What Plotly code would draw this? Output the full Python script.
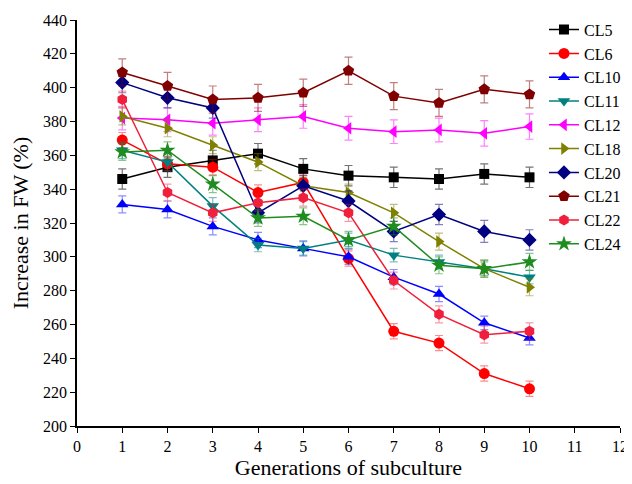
import plotly.graph_objects as go

generations = [1, 2, 3, 4, 5, 6, 7, 8, 9, 10]

cl5 = [346, 353, 357, 361, 352, 348, 347, 346, 349, 347]
cl6 = [369, 355, 353, 338, 344, 299, 256, 249, 231, 222]
cl10 = [331, 328, 318, 310, 305, 300, 288, 278, 261, 252]
cl11 = [363, 356, 330, 307, 305, 310, 301, 297, 293, 288]
cl12 = [382, 381, 379, 381, 383, 376, 374, 375, 373, 377]
cl18 = [383, 376, 366, 356, 342, 338, 326, 309, 293, 282]
cl20 = [403, 394, 388, 326, 342, 333, 315, 325, 315, 310]
cl21 = [409, 401, 393, 394, 397, 410, 395, 391, 399, 396]
cl22 = [393, 338, 326, 332, 335, 326, 286, 266, 254, 256]
cl24 = [362, 363, 343, 323, 324, 310, 318, 295, 293, 297]

err5 = [6, 6, 6, 6, 6, 6, 6, 6, 6, 6]
err6 = [4.5, 4.5, 4.5, 4.5, 4.5, 4.5, 4.5, 4.5, 4.5, 4.5]
err10 = [5, 5, 5, 4.5, 4.5, 4.5, 4.5, 4.5, 4, 4]
err11 = [5, 5, 5, 4, 4, 4, 4, 4, 4, 4]
err12 = [7, 7, 7, 7, 7, 7, 7, 7, 7.5, 7.5]
err18 = [5, 5, 5, 5, 5, 5, 5, 5, 5, 5]
err20 = [6, 6, 6, 6, 6, 6, 6, 6, 6.5, 6]
err21 = [8, 8, 8, 8, 8, 8, 8, 8, 8, 8]
err22 = [5, 5, 5, 5, 5, 5, 5, 5, 5, 5]
err24 = [5, 5, 5, 5, 5, 5, 5, 5, 5, 5]

names = ["CL5", "CL6", "CL10", "CL11", "CL12", "CL18", "CL20", "CL21", "CL22", "CL24"]
series = [cl5, cl6, cl10, cl11, cl12, cl18, cl20, cl21, cl22, cl24]
errors = [err5, err6, err10, err11, err12, err18, err20, err21, err22, err24]
colors = ["#000000", "#FF0000", "#0000FF", "#008080", "#FF00FF",
          "#808000", "#000080", "#800000", "#F0203C", "#1E8C1E"]
err_colors = ["rgba(0,0,0,0.55)", "rgba(255,0,0,0.45)", "rgba(0,0,255,0.45)",
              "rgba(0,128,128,0.5)", "rgba(255,0,255,0.5)", "rgba(128,128,0,0.5)",
              "rgba(0,0,128,0.5)", "rgba(128,0,0,0.5)", "rgba(240,32,60,0.45)",
              "rgba(30,140,30,0.5)"]
symbols = ["square", "circle", "triangle-up", "triangle-down", "triangle-left",
           "triangle-right", "diamond", "pentagon", "hexagon", "star"]
sizes = [10, 11, 11, 11, 11, 11, 11, 12, 11, 12]

fig = go.Figure()
for n, v, e, c, ec, s, sz in zip(names, series, errors, colors, err_colors, symbols, sizes):
    fig.add_trace(go.Scatter(
        x=generations, y=v, name=n, mode="lines+markers",
        line=dict(color=c, width=1.5),
        marker=dict(symbol=s, size=sz, color=c),
        error_y=dict(type="data", array=e, visible=True, color=ec, thickness=1.2, width=4),
    ))

font_family = "Liberation Serif"
fig.update_layout(
    width=624, height=476,
    margin=dict(l=69, r=12, t=12, b=58, autoexpand=False),
    paper_bgcolor="white", plot_bgcolor="white",
    font=dict(family=font_family, color="black"),
    showlegend=True,
    legend=dict(x=0.860, y=1.018, xanchor="left", yanchor="top",
                bgcolor="rgba(0,0,0,0)", font=dict(size=16, family=font_family),
                tracegroupgap=0, itemwidth=30, maxheight=440),
    xaxis=dict(range=[0, 12], tickmode="linear", tick0=0, dtick=1,
               showline=True, linecolor="black", linewidth=1.5,
               ticks="outside", ticklen=5, tickwidth=1.2, tickcolor="black",
               showgrid=False, zeroline=False, automargin=False,
               tickfont=dict(size=16, family=font_family),
               title=dict(text="Generations of subculture",
                          font=dict(size=22, family=font_family), standoff=6)),
    yaxis=dict(range=[200, 440], tickmode="linear", tick0=200, dtick=20,
               showline=True, linecolor="black", linewidth=1.5,
               ticks="outside", ticklen=5, tickwidth=1.2, tickcolor="black",
               showgrid=False, zeroline=False, automargin=False,
               tickfont=dict(size=16, family=font_family),
               title=dict(text="Increase in FW (%)",
                          font=dict(size=22, family=font_family), standoff=8)),
)

fig.write_html("out.html")
